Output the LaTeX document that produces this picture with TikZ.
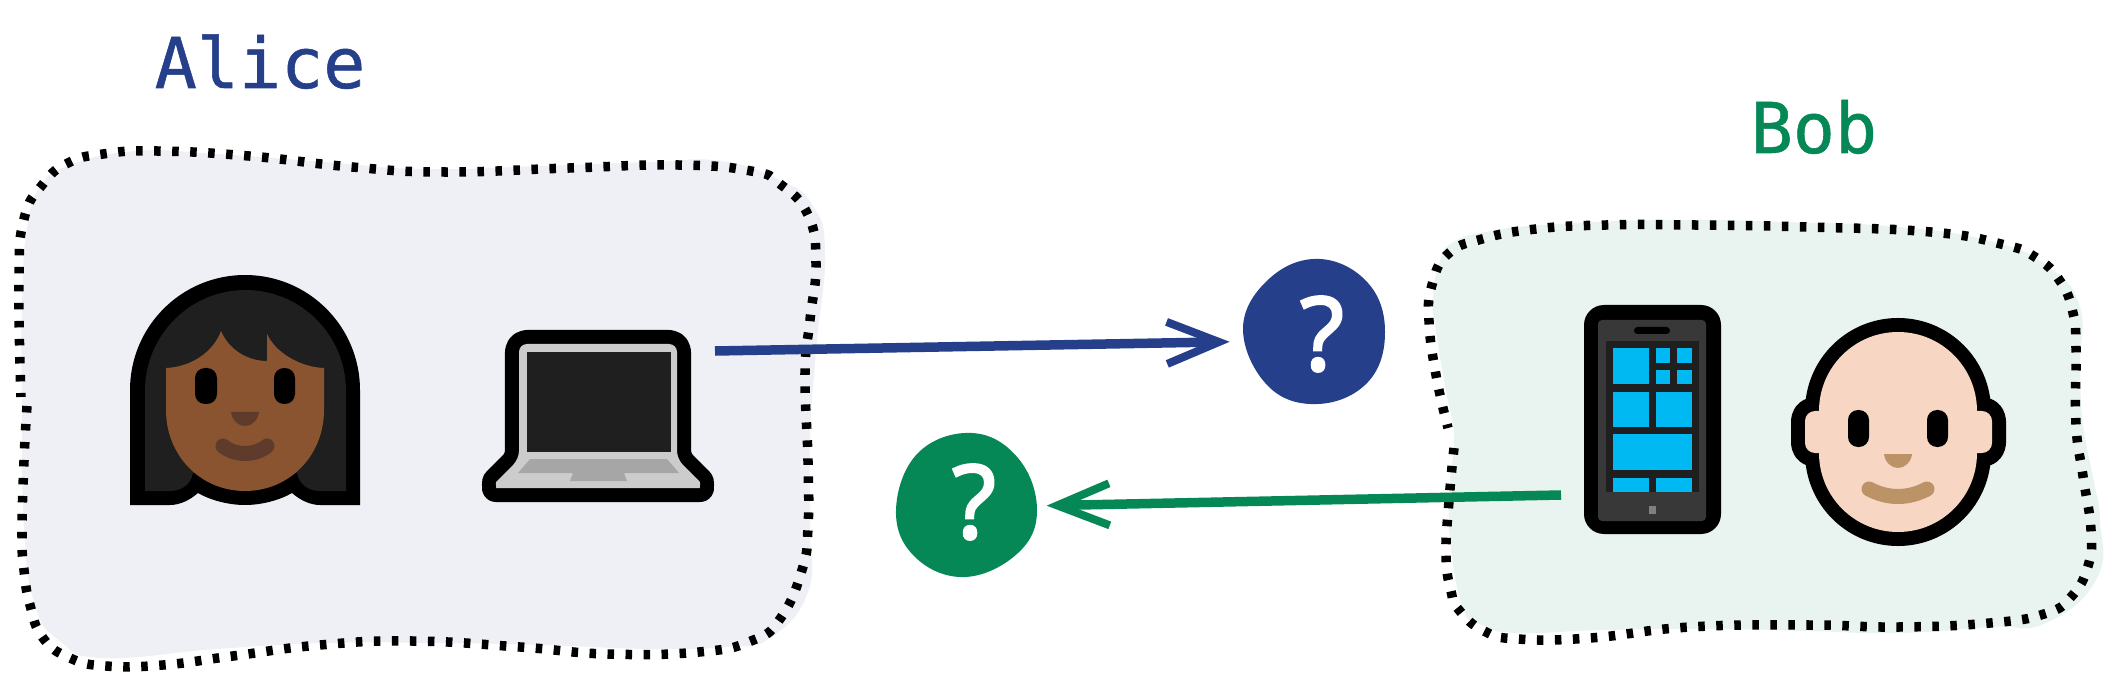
\documentclass[tikz,border=0pt]{standalone}
\usepackage{fontspec}
\usetikzlibrary{arrows.meta}
\newfontfamily\namefont[FakeBold=0.8]{DejaVu Sans Mono}
\newfontfamily\markfont[FakeBold=2.5]{Open Sans}
\definecolor{aliceblue}{HTML}{253F8A}
\definecolor{bobgreen}{HTML}{058856}
\definecolor{alicefill}{HTML}{EEF0F5}
\definecolor{bobfill}{HTML}{E9F3F0}
\definecolor{hairgray}{HTML}{1F1F1F}
\definecolor{darkskin}{HTML}{8A5430}
\definecolor{darkshade}{HTML}{5F3B2C}
\definecolor{lightskin}{HTML}{F7D7C4}
\definecolor{lightshade}{HTML}{BC9267}
\definecolor{tileblue}{HTML}{00B9F2}
\begin{document}
\begin{tikzpicture}[
	x=0.01cm,
	y=-0.01cm,
	blobline/.style={
		draw=black,
		line width=0.095cm,
		dash pattern=on 0.065cm off 0.115cm
	},
	nametext/.style={
		inner sep=0pt,
		anchor=base west,
		font=\namefont\fontsize{19.9}{24}\selectfont
	},
	qmark/.style={
		circle,
		inner sep=0pt,
		minimum size=1.4cm,
		text=white,
		font=\markfont\fontsize{29}{30}\selectfont
	},
	wire/.style={
		line width=0.095cm,
		-{Straight Barb[length=0.52cm,width=0.42cm,line width'=0.08cm]}
	},
	iconedge/.style={
		draw=black,
		line width=0.28cm,
		line join=round
	},
	eye/.style={
		fill=black,
		rounded corners=0.1cm
	},
	tile/.style={
		fill=tileblue
	},
]
\useasboundingbox (0,0) rectangle (2111,688);

%% Outer blobs %%
\fill[alicefill] plot[smooth cycle, tension=0.8] coordinates {
	(41,186) (70,165) (136,151) (217,154) (325,162) (423,169) (542,166) (650,162)
	(721,161) (780,180) (813,206) (825,254) (816,351) (810,439) (810,527) (808,592)
	(770,638) (726,647) (650,649) (542,645) (434,643) (325,643) (217,649) (103,658)
	(60,641) (35,605) (24,527) (22,395) (22,307) (27,228)};
\draw[blobline] plot[smooth, tension=0.8] coordinates {
	(27,406) (24,461) (22,533) (24,570) (30,605) (43,638) (70,658) (106,666)
	(163,665) (233,656) (320,645) (412,641) (520,647) (607,654) (699,652) (751,641)
	(780,619) (802,570) (808,527) (808,461) (805,373) (810,320) (816,263) (808,215)
	(780,184) (751,171) (678,165) (569,168) (444,172) (352,167) (249,156) (157,151)
	(103,154) (68,163) (43,184) (24,219) (19,281) (21,397)};

\fill[bobfill] plot[smooth cycle, tension=0.8] coordinates {
	(1452,243) (1491,231) (1559,224) (1672,220) (1785,222) (1899,227) (1990,241)
	(2044,264) (2079,304) (2080,367) (2083,424) (2094,482) (2100,520) (2097,578)
	(2046,623) (1990,627) (1899,633) (1808,631) (1717,629) (1604,630) (1518,633)
	(1482,625) (1463,608) (1450,539) (1450,482) (1454,436) (1445,386) (1435,325)
	(1433,298) (1439,264)};
\draw[blobline] plot[smooth, tension=0.8] coordinates {
	(1454,448) (1449,501) (1446,555) (1451,591) (1459,610) (1484,631) (1518,639)
	(1590,638) (1690,627) (1808,625) (1899,627) (1990,623) (2044,614) (2071,597)
	(2088,566) (2091,530) (2083,476) (2076,424) (2076,348) (2073,313) (2060,281)
	(2035,257) (2001,244) (1931,232) (1808,227) (1695,225) (1606,225) (1536,229)
	(1482,239) (1448,254) (1432,285) (1429,321) (1436,375) (1448,428)};

%% Names %%
\node[nametext, text=aliceblue] (alicename) at (154,88) {Alice};
\node[nametext, text=bobgreen] (bobname) at (1750,153) {Bob};

%% Alice %%
% outline %
\fill[black] (130,505) -- (130,390) arc[start angle=180, end angle=360, x radius=115, y radius=115]
	-- (360,505) -- (320,505)
	.. controls (310,505) and (300,500) .. (292,493)
	.. controls (280,500) and (262,505) .. (245,505)
	.. controls (228,505) and (210,500) .. (198,493)
	.. controls (190,500) and (180,505) .. (170,505) -- cycle;
% hair %
\fill[hairgray] (145,491) -- (145,391) arc[start angle=180, end angle=360, x radius=100.5, y radius=101]
	-- (346,491) -- (320,491)
	.. controls (308,491) and (299,484) .. (297,473) -- (193,473)
	.. controls (191,484) and (182,491) .. (170,491) -- cycle;
% face %
\fill[darkskin] (166,368) .. controls (190,367) and (213,353) .. (221,331)
	.. controls (229,350) and (248,361) .. (267,361) -- (267,334)
	.. controls (276,353) and (300,367) .. (324,368) -- (324,410)
	.. controls (324,455) and (290,491) .. (245,491)
	.. controls (200,491) and (166,455) .. (166,410) -- cycle;
\fill[eye] (195,368) rectangle (217,404);
\fill[eye] (274,368) rectangle (295,404);
\fill[darkshade] (231,412) -- (259,412) .. controls (258,420) and (252,426) .. (245,426)
	.. controls (238,426) and (232,420) .. (231,412) -- cycle;
\draw[darkshade, line width=0.15cm, line cap=round] (223,446) .. controls (235,456) and (255,456) .. (267,446);

%% Laptop %%
\draw[iconedge, rounded corners=0.08cm, postaction={draw=none, fill=gray!40}] (519,344) -- (677,344) -- (677,459) -- (694,476)
	.. controls (701,483) and (699,488) .. (692,488) -- (504,488)
	.. controls (497,488) and (495,483) .. (502,476) -- (519,459) -- cycle;
\fill[hairgray] (527,352) rectangle (671,452);
\fill[gray!70] (530,459) -- (667,459) -- (679,473) -- (624,473) -- (627,481) -- (570,481)
	-- (573,473) -- (518,473) -- cycle;

%% Phone %%
\fill[black, rounded corners=0.2cm] (1584,305) rectangle (1721,534);
\fill[black!78, rounded corners=0.04cm] (1598,320) rectangle (1706,521);
\fill[black, rounded corners=0.035cm] (1634,327) rectangle (1670,334);
\fill[hairgray] (1606,341) rectangle (1699,492);
% tiles %
\foreach \xa/\ya/\xb/\yb in {
	1613/348/1649/384, 1656/348/1670/363, 1677/348/1692/363, 1656/370/1670/384,
	1677/370/1692/384, 1613/392/1649/427, 1656/392/1692/427, 1613/434/1692/470,
	1613/478/1649/492, 1656/478/1692/492}
	\fill[tile] (\xa,\ya) rectangle (\xb,\yb);
\fill[black!50] (1649,506) rectangle (1656,514);

%% Bob %%
\draw[iconedge, rounded corners=0.79cm] (1819,332) rectangle (1977,532);
\draw[iconedge, rounded corners=0.1cm] (1805,411) rectangle (1992,453);
\fill[lightskin, rounded corners=0.79cm] (1819,332) rectangle (1977,532);
\fill[lightskin, rounded corners=0.1cm] (1805,411) rectangle (1992,453);
\fill[eye] (1848,410) rectangle (1869,447);
\fill[eye] (1927,410) rectangle (1948,447);
\fill[lightshade] (1884,454) -- (1912,454) .. controls (1911,462) and (1905,468) .. (1898,468)
	.. controls (1891,468) and (1885,462) .. (1884,454) -- cycle;
\draw[lightshade, line width=0.15cm, line cap=round] (1869,489) .. controls (1888,499) and (1908,499) .. (1927,489);

%% Question marks %%
\fill[aliceblue] plot[smooth cycle, tension=0.68] coordinates {
	(1320,259) (1368,283) (1385,332) (1368,382) (1318,404) (1268,386) (1243,328) (1270,278)};
\node[qmark] (qblue) at (1322,334) {?};

\fill[bobgreen] plot[smooth cycle, tension=0.68] coordinates {
	(972,433) (1018,458) (1037,510) (1018,553) (965,577) (915,557) (896,510) (918,453)};
\node[qmark] (qgreen) at (974,502) {?};

%% Connection arrows %%
\coordinate (laptopout) at (715,351);
\coordinate (phoneout) at (1561,495);
\draw[wire, aliceblue, shorten >=0.22cm] (laptopout) -- (qblue.186);
\draw[wire, bobgreen, shorten >=0.02cm] (phoneout) -- (qgreen.-3);

\end{tikzpicture}
\end{document}
